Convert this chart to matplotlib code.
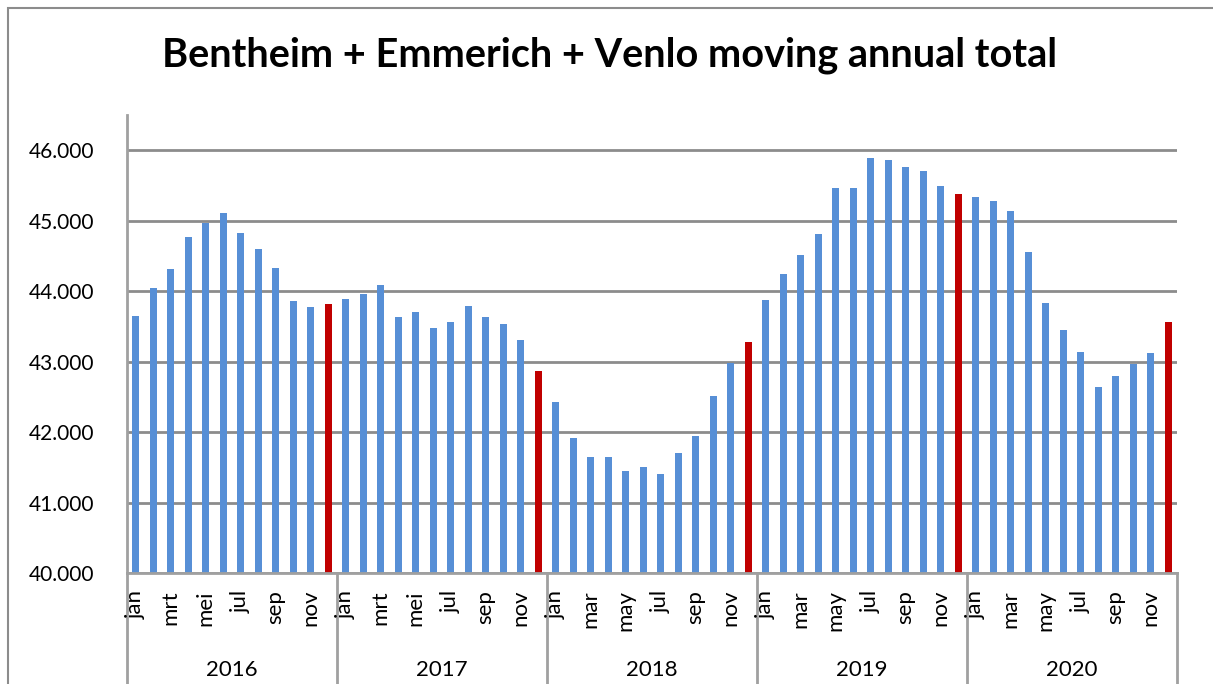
import matplotlib
matplotlib.use("Agg")
import matplotlib.pyplot as plt
import matplotlib.transforms as mtransforms
from matplotlib.patches import Rectangle
import numpy as np

years = ["2016", "2017", "2018", "2019", "2020"]
month_labels = [
    ["jan", "", "mrt", "", "mei", "", "jul", "", "sep", "", "nov", ""],
    ["jan", "", "mrt", "", "mei", "", "jul", "", "sep", "", "nov", ""],
    ["jan", "", "mar", "", "may", "", "jul", "", "sep", "", "nov", ""],
    ["jan", "", "mar", "", "may", "", "jul", "", "sep", "", "nov", ""],
    ["jan", "", "mar", "", "may", "", "jul", "", "sep", "", "nov", ""],
]
values_2016 = [43650, 44040, 44310, 44770, 44965, 45115, 44820, 44600, 44330, 43860, 43775, 43815]
values_2017 = [43885, 43955, 44090, 43635, 43710, 43480, 43560, 43785, 43630, 43540, 43305, 42870]
values_2018 = [42425, 41920, 41645, 41640, 41445, 41510, 41405, 41700, 41945, 42510, 42985, 43280]
values_2019 = [43875, 44250, 44520, 44810, 45460, 45470, 45885, 45860, 45760, 45705, 45495, 45380]
values_2020 = [45340, 45280, 45140, 44555, 43825, 43445, 43130, 42640, 42795, 42970, 43125, 43565]

yticks = [40000, 41000, 42000, 43000, 44000, 45000, 46000]
ytick_labels = ["40.000", "41.000", "42.000", "43.000", "44.000", "45.000", "46.000"]

values = values_2016 + values_2017 + values_2018 + values_2019 + values_2020
n = len(values)
x = np.arange(n)
blue = "#578FD6"
red = "#C00000"
colors = [red if (i % 12 == 11) else blue for i in range(n)]

plt.rcParams['font.family'] = ['Lato', 'DejaVu Sans']

W, H = 1213, 684
fig = plt.figure(figsize=(W / 100, H / 100), dpi=100)
ax = fig.add_axes([127 / W, 1 - 573 / H, (1177 - 127) / W, (573 - 115) / H])

ax.bar(x, values, width=0.4, color=colors, zorder=3)
ax.set_xlim(-0.5, n - 0.5)
ax.set_ylim(40000, 46500)
ax.set_yticks(yticks)
ax.set_yticklabels(ytick_labels, fontsize=15)
ax.tick_params(axis='y', length=0, pad=23.5)
ax.set_xticks([])
ax.yaxis.grid(True, color="#8C8C8C", linewidth=2, zorder=0)
for s in ["top", "right"]:
    ax.spines[s].set_visible(False)
ax.spines["left"].set_color("#A0A0A0")
ax.spines["left"].set_linewidth(2)
ax.spines["bottom"].set_color("#A0A0A0")
ax.spines["bottom"].set_linewidth(2)
ax.spines["bottom"].set_zorder(4)

trans = mtransforms.blended_transform_factory(ax.transData, ax.transAxes)
axh = 573 - 115
# month labels
for yi, labs in enumerate(month_labels):
    for mi, lab in enumerate(labs):
        if lab:
            ax.text(yi * 12 + mi, -17 / axh, lab, transform=trans, rotation=90,
                    ha="center", va="top", fontsize=16, clip_on=False)
# year labels and separators
for yi, yr in enumerate(years):
    ax.text(yi * 12 + 5.5, -97 / axh, yr, transform=trans, ha="center",
            va="center", fontsize=16, clip_on=False)
for k in range(len(years) + 1):
    ax.plot([k * 12 - 0.5, k * 12 - 0.5], [0, -115 / axh], transform=trans,
            color="#A0A0A0", linewidth=2, clip_on=False)

fig.text(610 / W, 1 - 55 / H, "Bentheim + Emmerich + Venlo moving annual total",
         ha="center", va="center", fontsize=28.5, fontweight="bold")

fig.add_artist(Rectangle((8 / W, -0.1), 1.2, 1 - 8 / H + 0.1, transform=fig.transFigure,
                         fill=False, edgecolor="#8C8C8C", linewidth=1.5))

fig.savefig("out.png", dpi=100)
